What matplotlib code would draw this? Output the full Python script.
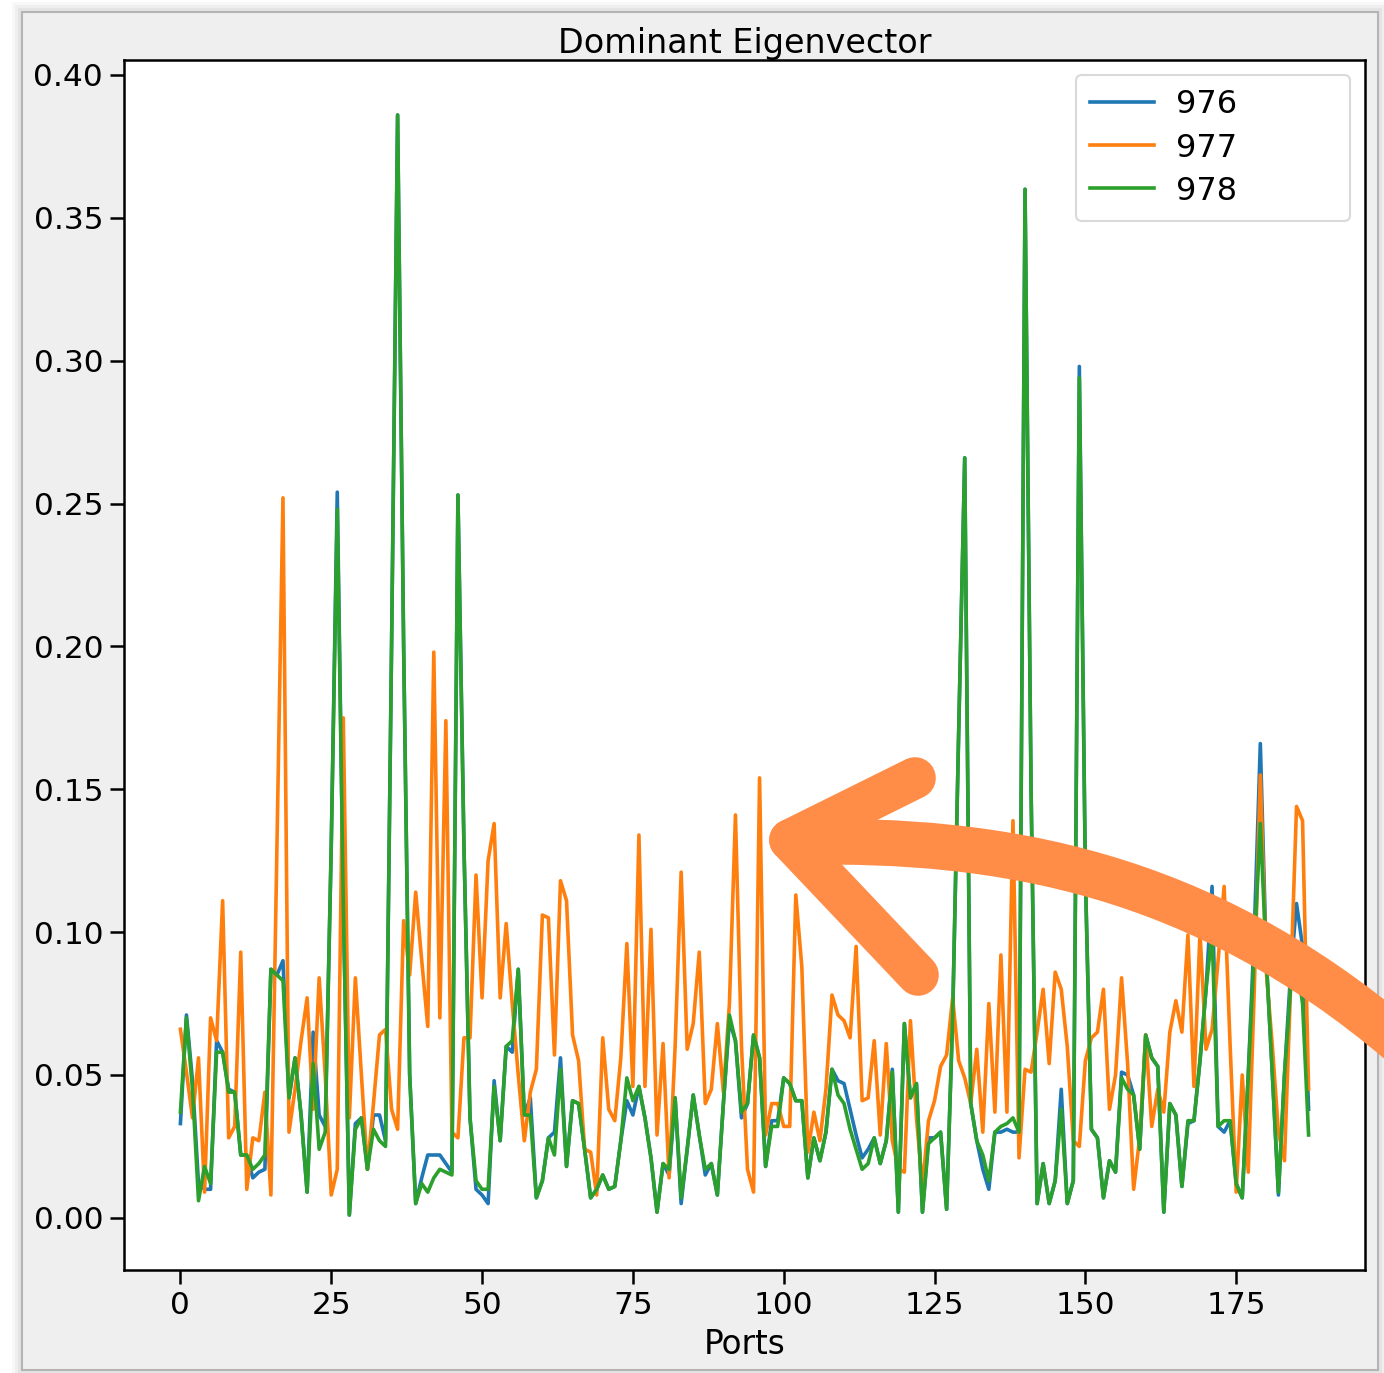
import matplotlib
matplotlib.use("Agg")
import matplotlib.pyplot as plt
import numpy as np
from matplotlib.patches import PathPatch, Rectangle
from matplotlib.path import Path
from matplotlib.ticker import FormatStrFormatter

# Dominant eigenvector components per port, for three snapshots
ports = np.arange(188)
eig_976 = [
    0.033, 0.071, 0.048, 0.012, 0.010, 0.010, 0.062, 0.058, 0.045, 0.044,
    0.022, 0.022, 0.014, 0.016, 0.017, 0.087, 0.085, 0.090, 0.042, 0.056,
    0.036, 0.009, 0.065, 0.036, 0.032, 0.130, 0.254, 0.110, 0.001, 0.033,
    0.035, 0.017, 0.036, 0.036, 0.027, 0.200, 0.386, 0.200, 0.050, 0.005,
    0.014, 0.022, 0.022, 0.022, 0.019, 0.016, 0.253, 0.130, 0.035, 0.010,
    0.008, 0.005, 0.048, 0.027, 0.060, 0.058, 0.087, 0.036, 0.042, 0.007,
    0.013, 0.028, 0.030, 0.056, 0.018, 0.041, 0.040, 0.024, 0.007, 0.010,
    0.015, 0.010, 0.011, 0.027, 0.041, 0.036, 0.046, 0.035, 0.021, 0.002,
    0.019, 0.015, 0.042, 0.005, 0.024, 0.043, 0.029, 0.015, 0.019, 0.008,
    0.040, 0.069, 0.062, 0.035, 0.040, 0.064, 0.056, 0.018, 0.034, 0.034,
    0.049, 0.047, 0.041, 0.041, 0.014, 0.028, 0.020, 0.030, 0.052, 0.048,
    0.047, 0.038, 0.029, 0.021, 0.024, 0.028, 0.019, 0.027, 0.052, 0.002,
    0.068, 0.042, 0.047, 0.002, 0.028, 0.028, 0.030, 0.003, 0.070, 0.170,
    0.266, 0.040, 0.027, 0.017, 0.010, 0.030, 0.030, 0.031, 0.030, 0.030,
    0.360, 0.150, 0.005, 0.019, 0.005, 0.013, 0.045, 0.005, 0.013, 0.298,
    0.120, 0.031, 0.028, 0.007, 0.020, 0.016, 0.051, 0.050, 0.043, 0.024,
    0.064, 0.056, 0.053, 0.002, 0.040, 0.036, 0.011, 0.033, 0.034, 0.055,
    0.080, 0.116, 0.032, 0.030, 0.034, 0.012, 0.007, 0.050, 0.100, 0.166,
    0.090, 0.050, 0.008, 0.050, 0.085, 0.110, 0.095, 0.038,
]
eig_977 = [
    0.066, 0.051, 0.035, 0.056, 0.009, 0.070, 0.062, 0.111, 0.028, 0.032,
    0.093, 0.010, 0.028, 0.027, 0.044, 0.008, 0.130, 0.252, 0.030, 0.045,
    0.062, 0.077, 0.038, 0.084, 0.050, 0.008, 0.017, 0.175, 0.035, 0.084,
    0.050, 0.017, 0.040, 0.064, 0.066, 0.038, 0.031, 0.104, 0.085, 0.114,
    0.090, 0.067, 0.198, 0.070, 0.174, 0.030, 0.028, 0.063, 0.063, 0.120,
    0.077, 0.125, 0.138, 0.077, 0.103, 0.075, 0.050, 0.027, 0.044, 0.052,
    0.106, 0.105, 0.057, 0.118, 0.111, 0.064, 0.055, 0.024, 0.023, 0.008,
    0.063, 0.038, 0.034, 0.056, 0.096, 0.046, 0.134, 0.046, 0.101, 0.029,
    0.061, 0.014, 0.060, 0.121, 0.059, 0.068, 0.093, 0.040, 0.045, 0.068,
    0.044, 0.075, 0.141, 0.060, 0.017, 0.009, 0.154, 0.029, 0.040, 0.040,
    0.032, 0.032, 0.113, 0.088, 0.023, 0.037, 0.027, 0.045, 0.078, 0.071,
    0.069, 0.063, 0.095, 0.041, 0.042, 0.062, 0.029, 0.061, 0.027, 0.017,
    0.016, 0.069, 0.035, 0.011, 0.034, 0.041, 0.053, 0.057, 0.077, 0.055,
    0.049, 0.040, 0.059, 0.030, 0.075, 0.037, 0.092, 0.037, 0.139, 0.021,
    0.052, 0.051, 0.065, 0.080, 0.054, 0.086, 0.080, 0.060, 0.027, 0.025,
    0.055, 0.063, 0.065, 0.080, 0.038, 0.050, 0.084, 0.054, 0.010, 0.028,
    0.064, 0.032, 0.045, 0.037, 0.065, 0.076, 0.065, 0.099, 0.046, 0.100,
    0.059, 0.066, 0.090, 0.116, 0.060, 0.009, 0.050, 0.016, 0.080, 0.155,
    0.086, 0.060, 0.030, 0.020, 0.080, 0.144, 0.139, 0.045,
]
eig_978 = [
    0.037, 0.070, 0.045, 0.006, 0.018, 0.012, 0.058, 0.058, 0.044, 0.044,
    0.022, 0.022, 0.017, 0.019, 0.022, 0.087, 0.085, 0.083, 0.042, 0.056,
    0.036, 0.009, 0.054, 0.024, 0.030, 0.130, 0.248, 0.110, 0.001, 0.031,
    0.035, 0.017, 0.031, 0.027, 0.025, 0.200, 0.386, 0.200, 0.050, 0.005,
    0.012, 0.009, 0.014, 0.017, 0.016, 0.015, 0.253, 0.130, 0.035, 0.013,
    0.010, 0.010, 0.046, 0.027, 0.060, 0.062, 0.087, 0.036, 0.036, 0.007,
    0.013, 0.028, 0.022, 0.052, 0.018, 0.041, 0.040, 0.024, 0.007, 0.010,
    0.015, 0.010, 0.011, 0.027, 0.049, 0.041, 0.046, 0.035, 0.021, 0.002,
    0.019, 0.017, 0.042, 0.007, 0.024, 0.043, 0.029, 0.017, 0.019, 0.008,
    0.040, 0.071, 0.062, 0.037, 0.040, 0.064, 0.056, 0.018, 0.032, 0.032,
    0.049, 0.047, 0.041, 0.041, 0.014, 0.028, 0.020, 0.030, 0.052, 0.043,
    0.040, 0.031, 0.024, 0.017, 0.019, 0.028, 0.019, 0.027, 0.051, 0.002,
    0.068, 0.042, 0.047, 0.002, 0.026, 0.028, 0.030, 0.003, 0.070, 0.170,
    0.266, 0.040, 0.027, 0.022, 0.013, 0.030, 0.032, 0.033, 0.035, 0.030,
    0.360, 0.150, 0.005, 0.019, 0.005, 0.013, 0.038, 0.005, 0.013, 0.294,
    0.120, 0.031, 0.028, 0.007, 0.020, 0.016, 0.049, 0.045, 0.043, 0.024,
    0.064, 0.056, 0.053, 0.002, 0.040, 0.036, 0.011, 0.034, 0.034, 0.055,
    0.080, 0.100, 0.032, 0.034, 0.034, 0.012, 0.007, 0.050, 0.094, 0.138,
    0.090, 0.050, 0.009, 0.050, 0.080, 0.090, 0.075, 0.029,
]
series_labels = ["976", "977", "978"]
series_colors = ["#1f77b4", "#ff7f0e", "#2ca02c"]

W, H = 1384, 1373
plt.rcParams["font.family"] = "DejaVu Sans"

fig = plt.figure(figsize=(W / 100, H / 100), dpi=100, facecolor="white")


def px(x, y):
    """Pixel position (top-left origin) to figure fraction."""
    return x / W, 1 - y / H


# soft shadow and grey panel behind the chart
for off, alpha in [(10, 0.05), (7, 0.07), (4, 0.09)]:
    fig.patches.append(Rectangle(px(22 - off, 1370 + off), (1356 + 2 * off) / W, (1358 + 2 * off) / H,
                                 transform=fig.transFigure, facecolor="#808080", alpha=alpha,
                                 edgecolor="none", zorder=-3))
fig.patches.append(Rectangle(px(22, 1370), 1356 / W, 1358 / H, transform=fig.transFigure,
                             facecolor="#efefef", edgecolor="#b4b4b4", lw=1.5, zorder=-2))

ax = fig.add_axes([124 / W, 1 - 1270 / H, (1365 - 124) / W, (1270 - 60) / H])
for values, label, color in zip([eig_976, eig_977, eig_978], series_labels, series_colors):
    ax.plot(ports, values, color=color, lw=2.6, label=label)

ax.set_title("Dominant Eigenvector", fontsize=24, pad=5)
ax.set_xlabel("Ports", fontsize=23.5, labelpad=6)
ax.set_xticks(np.arange(0, 176, 25))
ax.set_yticks(np.arange(0, 0.41, 0.05))
ax.yaxis.set_major_formatter(FormatStrFormatter("%.2f"))
ax.tick_params(labelsize=22.5, length=10, width=1.8, pad=5)
for spine in ax.spines.values():
    spine.set_linewidth(1.8)

# legend stretched to a fixed box in the upper right corner
leg = ax.legend(loc="upper left", bbox_to_anchor=(0.767, 0.0, 0.221, 0.9876), mode="expand",
                borderaxespad=0, fontsize=23, handlelength=2.0, borderpad=0.45,
                labelspacing=0.38, handletextpad=0.7)
leg.get_frame().set_edgecolor("#d0d0d0")
leg.get_frame().set_linewidth(1.5)
for line in leg.get_lines():
    line.set_linewidth(2.6)

# hand-drawn callout arrow pointing back at the orange peaks
arrow_color = "#ff8c47"
shaft = Path([px(800, 842), px(1000, 838), px(1200, 872), px(1400, 1042)],
             [Path.MOVETO, Path.CURVE4, Path.CURVE4, Path.CURVE4])
fig.add_artist(PathPatch(shaft, transform=fig.transFigure, facecolor="none",
                         edgecolor=arrow_color, lw=33, capstyle="round", zorder=10))
for end in [(915, 778), (918, 975)]:
    barb = Path([px(790, 840), px(*end)], [Path.MOVETO, Path.LINETO])
    fig.add_artist(PathPatch(barb, transform=fig.transFigure, facecolor="none",
                             edgecolor=arrow_color, lw=30, capstyle="round", zorder=10))

fig.savefig("out.png", dpi=100, facecolor=fig.get_facecolor())
